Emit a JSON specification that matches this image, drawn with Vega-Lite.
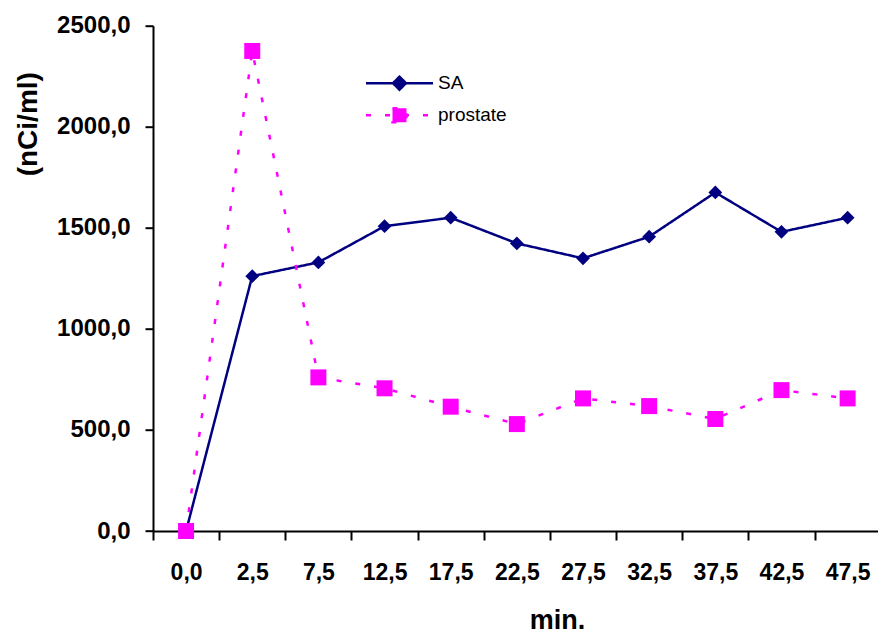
{
  "$schema": "https://vega.github.io/schema/vega-lite/v6.json",
  "width": 725,
  "height": 505.3,
  "autosize": {"type": "none"},
  "padding": {"left": 153, "top": 25.7, "right": 0, "bottom": 102},
  "background": "white",
  "config": {"view": {"stroke": null}, "font": "Liberation Sans"},
  "data": {
    "values": [
      {"min": 0, "series": "SA", "value": 0},
      {"min": 2.5, "series": "SA", "value": 1261},
      {"min": 7.5, "series": "SA", "value": 1329},
      {"min": 12.5, "series": "SA", "value": 1508},
      {"min": 17.5, "series": "SA", "value": 1550},
      {"min": 22.5, "series": "SA", "value": 1423},
      {"min": 27.5, "series": "SA", "value": 1349},
      {"min": 32.5, "series": "SA", "value": 1456},
      {"min": 37.5, "series": "SA", "value": 1675},
      {"min": 42.5, "series": "SA", "value": 1480},
      {"min": 47.5, "series": "SA", "value": 1550},
      {"min": 0, "series": "prostate", "value": 0},
      {"min": 2.5, "series": "prostate", "value": 2375},
      {"min": 7.5, "series": "prostate", "value": 760},
      {"min": 12.5, "series": "prostate", "value": 706},
      {"min": 17.5, "series": "prostate", "value": 615},
      {"min": 22.5, "series": "prostate", "value": 529},
      {"min": 27.5, "series": "prostate", "value": 656},
      {"min": 32.5, "series": "prostate", "value": 618},
      {"min": 37.5, "series": "prostate", "value": 554},
      {"min": 42.5, "series": "prostate", "value": 697},
      {"min": 47.5, "series": "prostate", "value": 656}
    ]
  },
  "encoding": {
    "x": {
      "field": "min",
      "type": "ordinal",
      "bandPosition": 0.5,
      "scale": {"type": "band", "paddingInner": 0, "paddingOuter": 0, "range": [0, 727.7]},
      "axis": {
        "title": "min.",
        "labelExpr": "isValid(datum.value) ? replace(format(datum.value, '.1f'), '.', ',') : ''",
        "labelAngle": 0,
        "labelFont": "Liberation Sans",
        "labelFontWeight": "bold",
        "labelFontSize": 23,
        "labelColor": "black",
        "labelPadding": 21,
        "labelBaseline": "top",
        "tickBand": "extent",
        "tickSize": 9,
        "tickWidth": 2,
        "tickColor": "black",
        "domainColor": "black",
        "domainWidth": 2,
        "titleFont": "Liberation Sans",
        "titleFontSize": 27,
        "titleFontWeight": "bold",
        "titleColor": "black",
        "titleX": 404,
        "titleY": 97,
        "titleBaseline": "alphabetic",
        "titleAlign": "center",
        "grid": false
      }
    },
    "y": {
      "field": "value",
      "type": "quantitative",
      "scale": {"domain": [0, 2500], "nice": false},
      "axis": {
        "title": "(nCi/ml)",
        "values": [0, 500, 1000, 1500, 2000, 2500],
        "labelExpr": "replace(format(datum.value, '.1f'), '.', ',')",
        "labelFont": "Liberation Sans",
        "labelFontWeight": "bold",
        "labelFontSize": 24,
        "labelColor": "black",
        "labelPadding": 15,
        "tickSize": 8,
        "tickWidth": 2,
        "tickColor": "black",
        "domainColor": "black",
        "domainWidth": 2,
        "titleFont": "Liberation Sans",
        "titleFontSize": 28,
        "titleFontWeight": "bold",
        "titleColor": "black",
        "titleAngle": -90,
        "titleX": -117,
        "titleY": 98,
        "titleBaseline": "alphabetic",
        "titleAlign": "center",
        "grid": false
      }
    },
    "color": {
      "field": "series",
      "type": "nominal",
      "scale": {"domain": ["SA", "prostate"], "range": ["#000080", "#ff00ff"]},
      "legend": {
        "orient": "none",
        "legendX": 235,
        "legendY": 46,
        "title": null,
        "padding": 0,
        "symbolSize": 400,
        "symbolStrokeWidth": 2.5,
        "symbolType": "circle",
        "labelFont": "Liberation Sans",
        "labelFontSize": 19,
        "labelColor": "black",
        "labelOffset": 27,
        "rowPadding": 8,
        "encode": {
          "symbols": {
            "update": {
              "shape": {"signal": "datum.value === 'SA' ? 'M-3.35,0H3.35M0,-0.65L0.65,0L0,0.65L-0.65,0Z' : 'M-3.35,0H3.35M-0.7,-0.7H0.7V0.7H-0.7Z'"},
              "strokeDash": {"signal": "datum.value === 'SA' ? [1, 0] : [8, 22]"},
              "fill": {"scale": "color", "field": "value"},
              "stroke": {"scale": "color", "field": "value"},
              "opacity": {"value": 1},
              "fillOpacity": {"value": 1},
              "strokeOpacity": {"value": 1}
            }
          }
        }
      }
    }
  },
  "layer": [
    {
      "mark": {"type": "line", "strokeWidth": 2.5},
      "encoding": {
        "strokeDash": {
          "field": "series",
          "type": "nominal",
          "scale": {"domain": ["SA", "prostate"], "range": [[1, 0], [5, 14]]},
          "legend": null
        }
      }
    },
    {
      "transform": [{"filter": "datum.series === 'SA'"}],
      "mark": {"type": "point", "filled": true, "opacity": 1, "shape": "diamond", "size": 190, "strokeWidth": 0}
    },
    {
      "transform": [{"filter": "datum.series === 'prostate'"}],
      "mark": {"type": "point", "filled": true, "opacity": 1, "shape": "square", "size": 256, "strokeWidth": 0}
    }
  ]
}
